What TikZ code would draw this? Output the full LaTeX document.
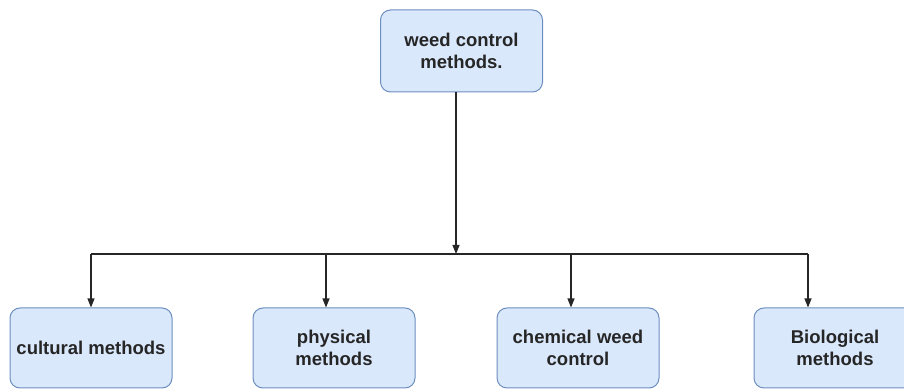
\documentclass[tikz,border=0pt]{standalone}
\usepackage{fontspec}
\setmainfont{Liberation Sans}
\usetikzlibrary{arrows.meta}
\definecolor{boxfill}{HTML}{DAE8FC}
\definecolor{boxline}{HTML}{6C8EBF}
\begin{document}
\begin{tikzpicture}[x=1pt,y=1pt,
  box/.style={draw=boxline, fill=boxfill, line width=1pt, rounded corners=10pt,
    minimum width=162pt, minimum height=80pt, align=center, inner sep=2pt,
    font=\fontsize{18.5}{22}\selectfont\bfseries, text=black!85},
  link/.style={line width=1.1pt, black!85},
  arr/.style={link, -{Triangle[width=7pt,length=9pt]}}]
  \clip (0,0) rectangle (904,390);
  \useasboundingbox (0,0) rectangle (904,390);

  % root and the four branches
  \node[box, minimum height=82pt] (root) at (461.5,339) {weed control\\methods.};
  \node[box] (cult) at (91,42)  {cultural methods};
  \node[box] (phys) at (334,42) {physical\\methods};
  \node[box] (chem) at (578,42) {chemical weed\\control};
  \node[box] (bio)  at (835,42) {Biological\\methods};

  % bus line and its drop points
  \coordinate (hub) at (456,136);
  \coordinate (d1) at (91,136);
  \coordinate (d2) at (326,136);
  \coordinate (d3) at (571,136);
  \coordinate (d4) at (808,136);

  \draw[arr] (root.south -| hub) -- (hub);
  \draw[link] (d1) -- (d4);
  \draw[arr] (d1) -- (cult.north -| d1);
  \draw[arr] (d2) -- (phys.north -| d2);
  \draw[arr] (d3) -- (chem.north -| d3);
  \draw[arr] (d4) -- (bio.north -| d4);
\end{tikzpicture}
\end{document}
